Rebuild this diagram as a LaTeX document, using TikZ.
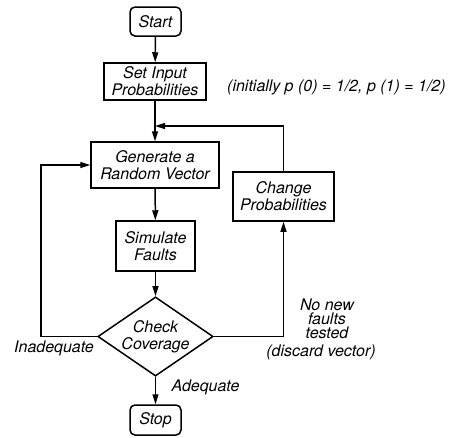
\documentclass[tikz,border=0pt]{standalone}
\usepackage{fontspec}
\setmainfont{TeX Gyre Heros}
\usetikzlibrary{shapes.geometric,arrows.meta}
\begin{document}
\begin{tikzpicture}[x=1pt,y=-1pt,
  every node/.style={font=\fontsize{16}{17}\selectfont\itshape},
  box/.style={draw,line width=1.5pt,rectangle,align=center,inner sep=0pt},
  term/.style={box,rounded corners=5pt},
  dia/.style={draw,line width=1.5pt,diamond,align=center,inner sep=0pt,minimum width=115pt,minimum height=79pt,shape aspect=1.456},
  conn/.style={line width=1.5pt,-{Triangle[length=10pt,width=6pt]}},
  lbl/.style={align=center,inner sep=0pt}]
\useasboundingbox (0,0) rectangle (457,437);
\node[term,minimum width=51pt,minimum height=29pt] (start) at (155.5,21.5) {Start};
\node[box,minimum width=102pt,minimum height=37pt] (setin) at (155,81.5) {Set Input\\Probabilities};
\node[box,minimum width=128pt,minimum height=46pt] (gen) at (155,165) {Generate a\\Random Vector};
\node[box,minimum width=79pt,minimum height=50pt] (sim) at (155.5,246) {Simulate\\Faults};
\node[dia] (chk) at (155.5,336.5) {Check\\Coverage};
\node[term,minimum width=51pt,minimum height=30pt] (stop) at (155.5,420) {Stop};
\node[box,minimum width=101pt,minimum height=49pt] (chg) at (283.5,196.5) {Change\\Probabilities};

\node[lbl,anchor=west] (note) at (227,87) {(initially p (0) = 1/2, p (1) = 1/2)};
\node[lbl] (inad) at (54,348) {Inadequate};
\node[lbl] (adeq) at (205.5,387) {Adequate};
\node[lbl,font=\fontsize{16}{14}\selectfont\itshape] (nonew) at (327,319) {No new\\faults\\tested};
\node[lbl] (disc) at (321,352) {(discard vector)};

\coordinate (join) at (155,126);
\coordinate (left) at (41,336.5);

\draw[conn] (start) -- (setin);
\draw[conn] (setin) -- (gen);
\draw[conn] (chg.north) |- (join);
\draw[conn] (gen) -- (sim);
\draw[conn] (sim) -- (chk);
\draw[conn] (chk.west) -- (left) |- (gen.west);
\draw[conn] (chk.east) -| (chg.south);
\draw[conn] (chk.south) -- (stop.north);
\end{tikzpicture}
\end{document}
